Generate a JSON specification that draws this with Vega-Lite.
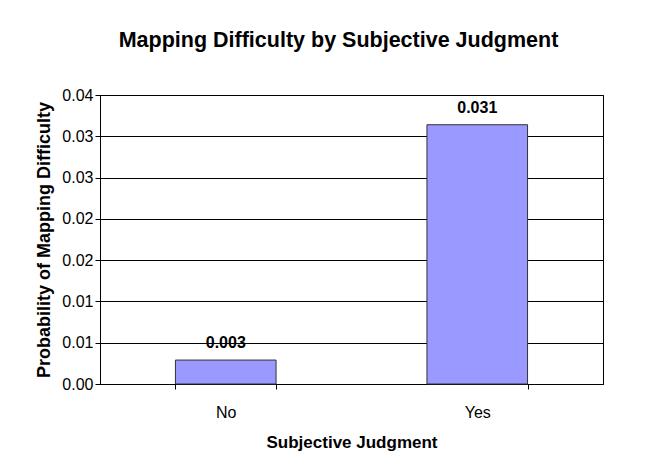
{
  "$schema": "https://vega.github.io/schema/vega-lite/v6.json",
  "autosize": "none",
  "width": 503,
  "height": 289,
  "padding": {"left": 100, "top": 95, "right": 48, "bottom": 88},
  "background": "white",
  "title": {
    "text": "Mapping Difficulty by Subjective Judgment",
    "font": "Liberation Sans",
    "fontSize": 21.5,
    "fontWeight": "bold",
    "color": "black",
    "anchor": "middle",
    "frame": "group",
    "dx": -13,
    "offset": 36
  },
  "data": {
    "values": [
      {"judgment": "No", "prob": 0.0029, "label": "0.003"},
      {"judgment": "Yes", "prob": 0.0314, "label": "0.031"}
    ]
  },
  "config": {
    "view": {"stroke": "black", "strokeWidth": 1},
    "font": "Liberation Sans",
    "axis": {
      "labelFont": "Liberation Sans",
      "labelFontSize": 16,
      "labelColor": "black",
      "titleFont": "Liberation Sans",
      "titleFontSize": 17,
      "titleFontWeight": "bold",
      "titleColor": "black",
      "domainColor": "black",
      "tickColor": "black",
      "gridColor": "black",
      "gridOpacity": 1
    }
  },
  "encoding": {
    "x": {
      "field": "judgment",
      "type": "nominal",
      "scale": {"paddingInner": 0.6, "paddingOuter": 0.3},
      "axis": {
        "title": "Subjective Judgment",
        "labelAngle": 0,
        "tickBand": "extent",
        "tickSize": 5,
        "labelPadding": 15,
        "titlePadding": 14
      }
    },
    "y": {
      "field": "prob",
      "type": "quantitative",
      "scale": {"domain": [0, 0.035], "nice": false},
      "axis": {
        "title": "Probability of Mapping Difficulty",
        "values": [0, 0.005, 0.01, 0.015, 0.02, 0.025, 0.03, 0.035],
        "labelExpr": "format(datum.value + 0.0000001, '.2f')",
        "tickSize": 5,
        "labelPadding": 2,
        "grid": true,
        "titleFontSize": 18,
        "titleX": -56,
        "titleY": 144.5,
        "titleAngle": -90,
        "titleBaseline": "middle",
        "titleAnchor": "middle"
      }
    }
  },
  "layer": [
    {
      "mark": {"type": "bar", "color": "#9999FF", "stroke": "#333333", "strokeWidth": 1}
    },
    {
      "mark": {"type": "text", "dy": -17, "fontSize": 16, "fontWeight": "bold", "font": "Liberation Sans", "color": "black", "baseline": "middle"},
      "encoding": {"text": {"field": "label"}}
    }
  ]
}
